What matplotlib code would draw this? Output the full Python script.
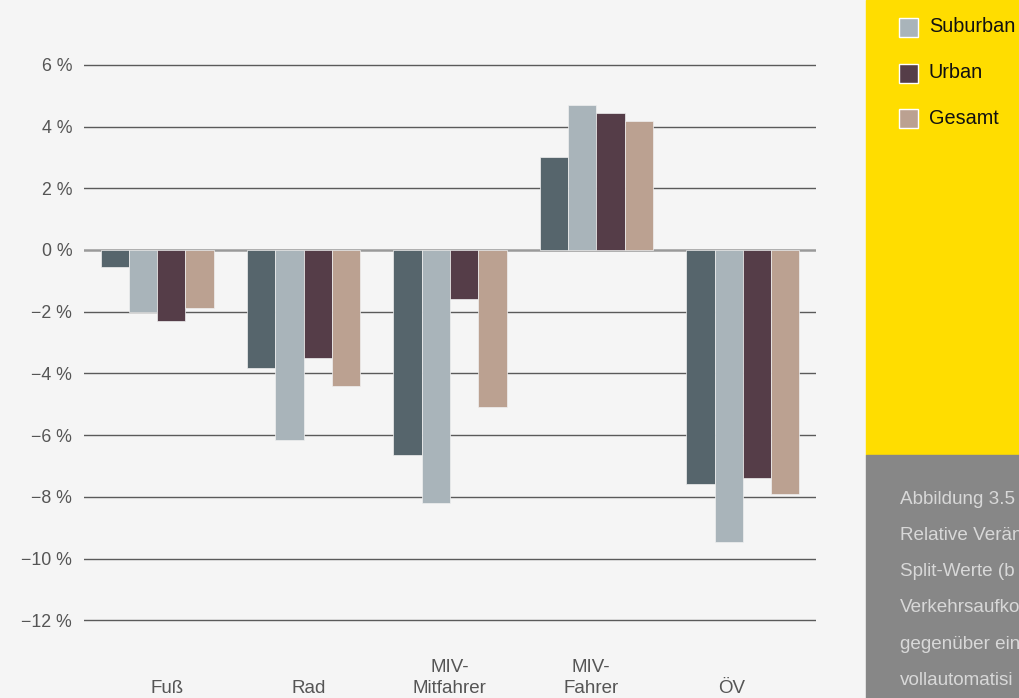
#!/usr/bin/env python3

import matplotlib.pyplot as plt
from matplotlib.patches import Rectangle
from matplotlib.transforms import blended_transform_factory

plt.rcParams['font.family'] = ['Liberation Sans', 'DejaVu Sans']

categories = ['Fuß', 'Rad', 'MIV-\nMitfahrer', 'MIV-\nFahrer', 'ÖV']
series = ['Ländlich', 'Suburban', 'Urban', 'Gesamt']
laendlich = [-0.55, -3.83, -6.65, 3.01, -7.57]
suburban = [-2.0, -6.16, -8.2, 4.7, -9.45]
urban = [-2.3, -3.5, -1.6, 4.44, -7.38]
gesamt = [-1.87, -4.41, -5.1, 4.18, -7.9]
values = [laendlich, suburban, urban, gesamt]
colors = ['#56656c', '#a9b4ba', '#553d48', '#bba191']
yticks = [6, 4, 2, 0, -2, -4, -6, -8, -10, -12]
# caption as far as it is visible (panel is cut at the right edge)
caption = [
    'Abbildung 3.5',
    'Relative Verän',
    'Split-Werte (b',
    'Verkehrsaufko',
    'gegenüber ein',
    'vollautomatisi',
]

fig = plt.figure(figsize=(10.2, 6.98), dpi=100)
fig.patch.set_facecolor('#f5f5f5')

ax = fig.add_axes([84 / 1020, 0, 732 / 1020, 1])
ax.set_facecolor('#f5f5f5')

width = 0.193
for i, (vals, col) in enumerate(zip(values, colors)):
    xs = [c + (i - 1.5) * width for c in range(len(categories))]
    ax.bar(xs, vals, width=width, color=col, edgecolor='#f0f0f0',
           linewidth=0.5, zorder=3)

ax.set_xlim(-0.5, len(categories) - 0.5)
ax.set_ylim(-14.52, 8.10)
ax.set_yticks(yticks)
ax.set_yticklabels([f'{v} %'.replace('-', '\u2212') for v in yticks],
                   fontsize=12.8, color='#555555')
ax.tick_params(axis='y', length=0, pad=8.5)
ax.set_xticks([])
for s in ax.spines.values():
    s.set_visible(False)
for v in yticks:
    if v == 0:
        ax.axhline(v, color='#9a9a9a', lw=1.8, zorder=2)
    else:
        ax.axhline(v, color='#5a5a5a', lw=1.0, zorder=2)

# category labels sit on a slightly narrower grid than the bar groups
trans = blended_transform_factory(ax.transData, fig.transFigure)
for c, label in enumerate(categories):
    ax.text(0.067 + 0.965 * c, 5 / 698, label, transform=trans,
            ha='center', va='baseline', fontsize=13.5, color='#555555',
            linespacing=1.28)

# right side panels
fig.patches.append(Rectangle((866 / 1020, 243 / 698), 154 / 1020, 455 / 698,
                             transform=fig.transFigure, color='#ffdd00',
                             zorder=0))
fig.patches.append(Rectangle((866 / 1020, 0), 154 / 1020, 243 / 698,
                             transform=fig.transFigure, color='#878787',
                             zorder=0))

legend_y = [27, 73, 118]
for name, col, yp in zip(series[1:], colors[1:], legend_y):
    fig.patches.append(Rectangle((899 / 1020, (698 - yp - 10) / 698),
                                 19 / 1020, 19 / 698,
                                 transform=fig.transFigure, facecolor=col,
                                 edgecolor='white', lw=1.0, zorder=2))
    fig.text(929 / 1020, (698 - yp) / 698, name, fontsize=14.3,
             color='#111111', va='center')

for k, line in enumerate(caption):
    fig.text(900 / 1020, (698 - 499 - 36.3 * k) / 698, line,
             fontsize=13.6, color='#d8d8d8', va='center')

plt.savefig('out.png', dpi=100, facecolor=fig.get_facecolor())
